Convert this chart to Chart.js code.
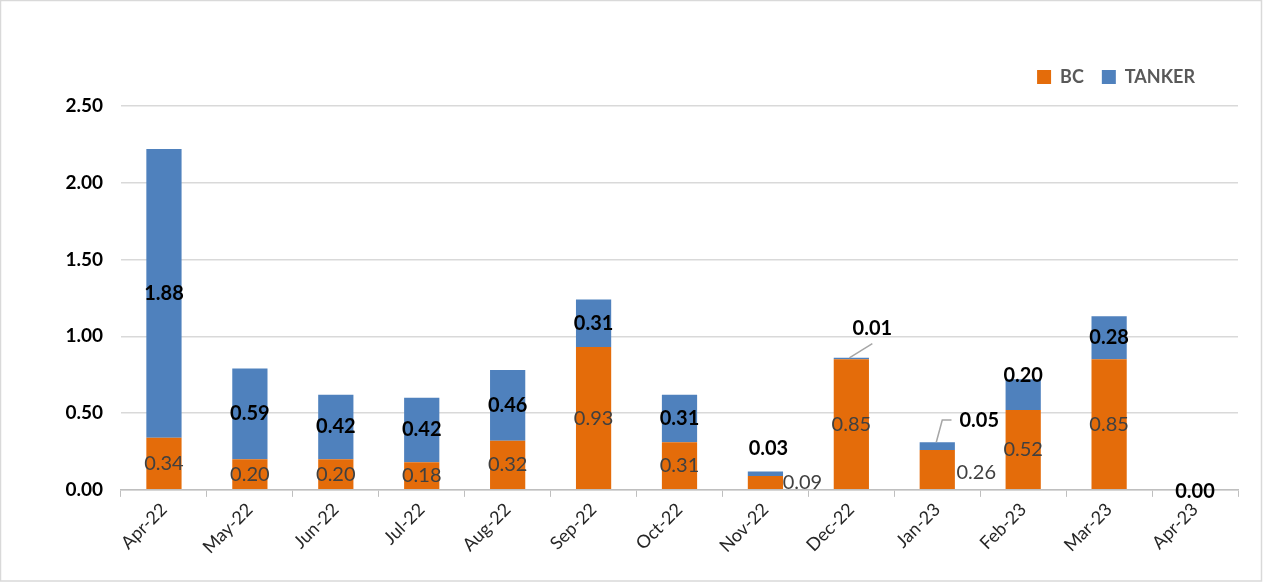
<!DOCTYPE html>
<html>
<head>
<meta charset="utf-8">
<script src="https://cdn.jsdelivr.net/npm/chart.js@4"></script>
<style>
  html, body { margin: 0; padding: 0; background: #fff; }
  #wrap { width: 1265px; height: 584px; }
</style>
</head>
<body>
<div id="wrap"><canvas id="shipChart" width="1265" height="584"></canvas></div>
<script>
const months = ['Apr-22', 'May-22', 'Jun-22', 'Jul-22', 'Aug-22', 'Sep-22', 'Oct-22', 'Nov-22', 'Dec-22', 'Jan-23', 'Feb-23', 'Mar-23', 'Apr-23'];
const bcValues = [0.34, 0.20, 0.20, 0.18, 0.32, 0.93, 0.31, 0.09, 0.85, 0.26, 0.52, 0.85, 0.00];
const tankerValues = [1.88, 0.59, 0.42, 0.42, 0.46, 0.31, 0.31, 0.03, 0.01, 0.05, 0.20, 0.28, 0.00];
const yTicks = [0, 0.5, 1.0, 1.5, 2.0, 2.5];

// label nudges (px) for the bars where the value doesn't fit inside
const bcNudge = { 7: [37, 0], 9: [39, 3] };
const bcHidden = { 12: true };
const tankerNudge = { 7: [3, -25], 8: [21, -30], 9: [42, -26], 10: [0, -19], 12: [0, 2] };
const tankerLeader = { 8: 'diag', 9: 'elbow' };

const FONT = 'Lato, "Open Sans", sans-serif';

const frame = {
  id: 'frame',
  beforeDraw(chart) {
    const c = chart.ctx;
    c.save();
    c.fillStyle = '#fff';
    c.fillRect(0, 0, chart.width, chart.height);
    c.strokeStyle = '#d9d9d9';
    c.lineWidth = 1.5;
    c.strokeRect(0.5, 0.5, chart.width - 4, chart.height - 3.5);
    c.restore();
  }
};

// move the legend a bit left / up, like the original
const legendShift = {
  id: 'legendShift',
  afterLayout(chart) {
    const lg = chart.legend;
    if (!lg) return;
    lg.right -= 25;
    lg.left -= 25;
    lg.top -= 10;
    lg.bottom -= 10;
  }
};

const valueLabels = {
  id: 'valueLabels',
  afterDatasetsDraw(chart) {
    const c = chart.ctx;
    c.save();
    c.textAlign = 'center';
    c.textBaseline = 'middle';

    const bcMeta = chart.getDatasetMeta(0);
    c.font = '20px ' + FONT;
    c.fillStyle = '#404040';
    bcMeta.data.forEach((el, i) => {
      if (bcHidden[i]) return;
      const n = bcNudge[i] || [0, 0];
      c.fillText(bcValues[i].toFixed(2), el.x + n[0], (el.y + el.base) / 2 + n[1]);
    });

    const tkMeta = chart.getDatasetMeta(1);
    c.font = 'bold 20px ' + FONT;
    tkMeta.data.forEach((el, i) => {
      const n = tankerNudge[i] || [0, 0];
      const lx = el.x + n[0];
      const ly = (el.y + el.base) / 2 + n[1];
      const txt = tankerValues[i].toFixed(2);
      if (tankerLeader[i]) {
        c.strokeStyle = '#a6a6a6';
        c.lineWidth = 1.5;
        c.beginPath();
        if (tankerLeader[i] === 'diag') {
          c.moveTo(el.x - 2, el.y);
          c.lineTo(lx, ly + 15);
        } else {
          const w = c.measureText(txt).width;
          c.moveTo(el.x - 1, el.y);
          c.lineTo(el.x + 5, ly);
          c.lineTo(lx - w / 2 - 8, ly);
        }
        c.stroke();
      }
      c.fillStyle = '#000';
      c.fillText(txt, lx, ly);
    });
    c.restore();
  }
};

new Chart(document.getElementById('shipChart').getContext('2d'), {
  type: 'bar',
  data: {
    labels: months,
    datasets: [
      { label: 'BC', data: bcValues, backgroundColor: '#E46C0A', categoryPercentage: 1, barPercentage: 0.41 },
      { label: 'TANKER', data: tankerValues, backgroundColor: '#4F81BD', categoryPercentage: 1, barPercentage: 0.41 }
    ]
  },
  options: {
    responsive: false,
    animation: false,
    devicePixelRatio: 1,
    layout: { padding: { left: 0, right: 27, top: 60, bottom: 24 } },
    plugins: {
      legend: {
        position: 'top',
        align: 'end',
        labels: {
          boxWidth: 14,
          boxHeight: 14,
          padding: 18,
          color: '#595959',
          font: { family: FONT, size: 18, weight: 'bold' }
        }
      },
      tooltip: { enabled: false }
    },
    scales: {
      x: {
        stacked: true,
        grid: { display: true, drawOnChartArea: false, drawTicks: true, tickLength: 7, color: '#bfbfbf', offset: true },
        border: { display: true, color: '#bfbfbf', width: 1.5 },
        ticks: { color: '#262626', minRotation: 45, maxRotation: 45, padding: 2, font: { family: FONT, size: 18 } }
      },
      y: {
        stacked: true,
        min: 0,
        max: 2.5,
        afterFit(scale) { scale.width = 121; },
        afterBuildTicks(scale) { scale.ticks = yTicks.map(v => ({ value: v })); },
        grid: { color: '#d9d9d9', lineWidth: 1.5, drawTicks: false },
        border: { display: false },
        ticks: {
          padding: 18,
          color: '#000',
          font: { family: FONT, size: 19, weight: 'bold' },
          callback: v => Number(v).toFixed(2)
        }
      }
    }
  },
  plugins: [frame, legendShift, valueLabels]
});
</script>
</body>
</html>
